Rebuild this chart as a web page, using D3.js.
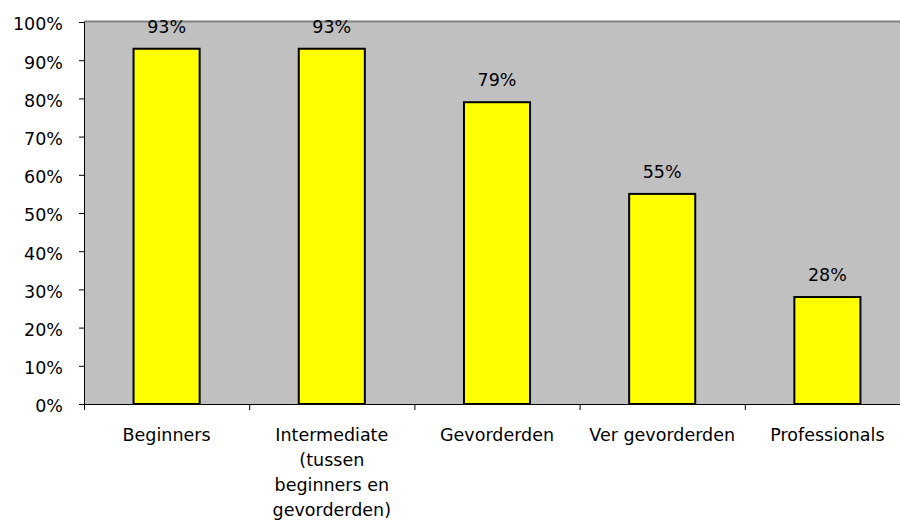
<!DOCTYPE html>
<html>
<head>
<meta charset="utf-8">
<script src="https://cdn.jsdelivr.net/npm/d3@7"></script>
<style>
  body { margin: 0; background: #fff; }
  text { font-family: "DejaVu Sans", sans-serif; fill: #000; }
</style>
</head>
<body>
<svg id="chart" width="900" height="521"></svg>
<script>
const categories = [
  ["Beginners"],
  ["Intermediate", "(tussen", "beginners en", "gevorderden)"],
  ["Gevorderden"],
  ["Ver gevorderden"],
  ["Professionals"]
];
const values = [93, 93, 79, 55, 28];
const yTicks = [0, 10, 20, 30, 40, 50, 60, 70, 80, 90, 100];

const svg = d3.select("#chart");
const plotLeft = 84, plotRight = 910, plotTop = 22, plotBottom = 404;
const fontSize = 17.5;

const keys = categories.map((c, i) => i);

const xScale = d3.scaleBand()
  .domain(keys)
  .range([plotLeft, plotRight])
  .paddingInner(0.6)
  .paddingOuter(0.3);

const xTickScale = d3.scaleLinear()
  .domain([0, categories.length])
  .range([plotLeft, plotRight]);

const yScale = d3.scaleLinear()
  .domain([0, 100])
  .range([plotBottom, plotTop]);

// plot background
svg.append("rect")
  .attr("x", plotLeft)
  .attr("y", plotTop)
  .attr("width", plotRight - plotLeft)
  .attr("height", plotBottom - plotTop)
  .attr("fill", "#c0c0c0");

svg.append("line")
  .attr("x1", plotLeft).attr("x2", plotRight)
  .attr("y1", plotTop - 0.5).attr("y2", plotTop - 0.5)
  .attr("stroke", "#808080")
  .attr("stroke-width", 2);

// bars
svg.selectAll(".bar")
  .data(values)
  .enter()
  .append("rect")
  .attr("class", "bar")
  .attr("x", (d, i) => xScale(i))
  .attr("y", d => yScale(d))
  .attr("width", xScale.bandwidth())
  .attr("height", d => plotBottom - yScale(d))
  .attr("fill", "#ffff00")
  .attr("stroke", "#000")
  .attr("stroke-width", 2);

// value labels
svg.selectAll(".val")
  .data(values)
  .enter()
  .append("text")
  .attr("class", "val")
  .attr("x", (d, i) => xScale(i) + xScale.bandwidth() / 2)
  .attr("y", d => yScale(d) - 16)
  .attr("text-anchor", "middle")
  .style("font-size", fontSize + "px")
  .text(d => d + "%");

// y axis
const yAxis = d3.axisLeft(yScale)
  .tickValues(yTicks)
  .tickFormat(d => d + "%")
  .tickSize(5)
  .tickPadding(16);

const gy = svg.append("g")
  .attr("transform", `translate(${plotLeft},0)`)
  .call(yAxis);
gy.select(".domain").attr("stroke", "#000");
gy.selectAll("line").attr("stroke", "#000");
gy.selectAll("text")
  .style("font-size", fontSize + "px")
  .attr("fill", "#000")
  .attr("dy", "0.45em");

// x axis
const xAxis = d3.axisBottom(xTickScale)
  .tickValues(d3.range(0, categories.length + 1))
  .tickFormat("")
  .tickSize(6)
  .tickSizeOuter(0);

const gx = svg.append("g")
  .attr("transform", `translate(0,${plotBottom})`)
  .call(xAxis);
gx.select(".domain").attr("stroke", "#000");
gx.selectAll("line").attr("stroke", "#000");

// category labels
const cat = svg.selectAll(".cat")
  .data(categories)
  .enter()
  .append("text")
  .attr("class", "cat")
  .attr("text-anchor", "middle")
  .style("font-size", fontSize + "px")
  .attr("transform", (d, i) => `translate(${xTickScale(i + 0.5)},441)`);

cat.selectAll("tspan")
  .data(d => d)
  .enter()
  .append("tspan")
  .attr("x", 0)
  .attr("y", (d, j) => j * 25)
  .text(d => d);
</script>
</body>
</html>
